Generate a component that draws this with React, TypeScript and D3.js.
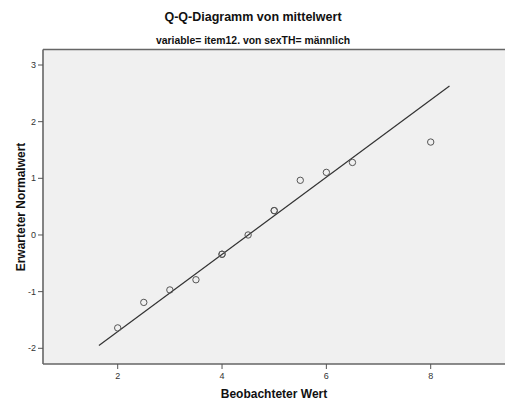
import React from "react";
import * as d3 from "d3";

const observed = [2, 2.5, 3, 3.5, 4, 4, 4.5, 5, 5, 5.5, 6, 6.5, 8];
const expected = [-1.64, -1.19, -0.97, -0.79, -0.34, -0.34, 0.0, 0.43, 0.43, 0.965, 1.105, 1.28, 1.64];
const xTicks = [2, 4, 6, 8];
const yTicks = [-2, -1, 0, 1, 2, 3];
const lineMean = 4.5;
const lineSd = 1.467;
const lineXRange = [1.64, 8.36];

const W = 505;
const H = 403;
const left = 43;
const top = 49.5;
const bottom = 364;
const right = 506;

export default function App() {
  const x = d3.scaleLinear().domain([2, 8]).range([117.7, 430.7]);
  const y = d3.scaleLinear().domain([-2, 3]).range([348.3, 65]);
  const lineData = lineXRange.map((v) => [v, (v - lineMean) / lineSd] as [number, number]);
  const line = d3
    .line<[number, number]>()
    .x((d) => x(d[0]))
    .y((d) => y(d[1]));
  const font = "'Liberation Sans', Arial, sans-serif";
  return (
    <svg
      width={W}
      height={H}
      style={{ position: "absolute", left: 0, top: 0, background: "#fff" }}
      fontFamily={font}
    >
      <rect x={0} y={0} width={W} height={H} fill="#fff" />
      <text x={253} y={21} textAnchor="middle" fontSize={12.5} fontWeight="bold" fill="#111">
        Q-Q-Diagramm von mittelwert
      </text>
      <text x={253} y={44} textAnchor="middle" fontSize={10.4} fontWeight="bold" fill="#111">
        variable= item12. von sexTH= männlich
      </text>
      <rect x={left} y={top} width={right - left} height={bottom - top} fill="#f0f0f0" />
      <path d={line(lineData) || ""} stroke="#333" strokeWidth={1.2} fill="none" />
      {observed.map((v, i) => (
        <circle
          key={i}
          cx={x(v)}
          cy={y(expected[i])}
          r={3.2}
          fill="none"
          stroke="#555"
          strokeWidth={1}
        />
      ))}
      <line x1={left} y1={top} x2={right} y2={top} stroke="#666" strokeWidth={1.6} />
      <line x1={left} y1={top} x2={left} y2={bottom} stroke="#666" strokeWidth={1.6} />
      <line x1={left} y1={bottom} x2={right} y2={bottom} stroke="#666" strokeWidth={1.6} />
      {xTicks.map((t) => (
        <g key={"x" + t}>
          <line x1={x(t)} x2={x(t)} y1={bottom} y2={bottom + 5} stroke="#555" strokeWidth={1} />
          <text x={x(t)} y={379} textAnchor="middle" fontSize={9} fill="#333">
            {t}
          </text>
        </g>
      ))}
      {yTicks.map((t) => (
        <g key={"y" + t}>
          <line x1={left - 5} x2={left} y1={y(t)} y2={y(t)} stroke="#555" strokeWidth={1} />
          <text x={36} y={y(t) + 3} textAnchor="end" fontSize={9} fill="#333">
            {t}
          </text>
        </g>
      ))}
      <text x={274} y={398} textAnchor="middle" fontSize={12} fontWeight="bold" fill="#111">
        Beobachteter Wert
      </text>
      <text
        transform={`translate(25,207) rotate(-90)`}
        textAnchor="middle"
        fontSize={12}
        fontWeight="bold"
        fill="#111"
      >
        Erwarteter Normalwert
      </text>
    </svg>
  );
}
